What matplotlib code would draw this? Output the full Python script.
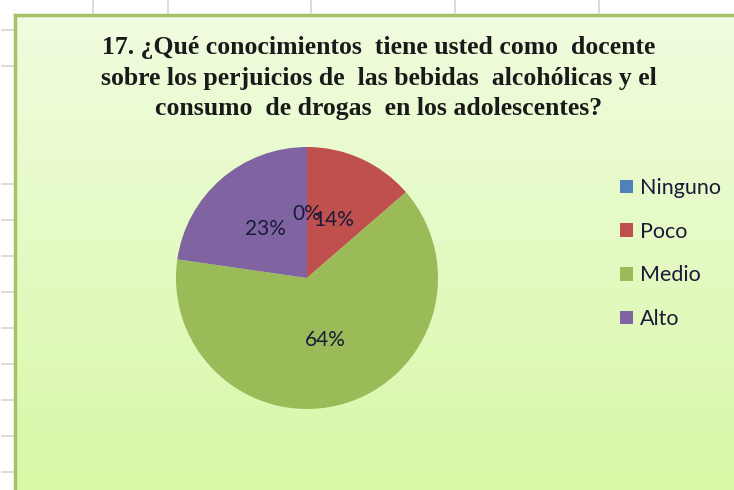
import numpy as np
import matplotlib.pyplot as plt
from matplotlib.lines import Line2D
from matplotlib.colors import LinearSegmentedColormap

# data
categories = ['Ninguno', 'Poco', 'Medio', 'Alto']
counts = [0, 3, 14, 5]
colors = ['#4f81bd', '#c0504d', '#9bbb59', '#8064a2']
title = ('17. ¿Qué conocimientos  tiene usted como  docente\n'
         'sobre los perjuicios de  las bebidas  alcohólicas y el\n'
         'consumo  de drogas  en los adolescentes?')

W, H = 734, 490
fig = plt.figure(figsize=(W / 100, H / 100), dpi=100)
fig.patch.set_facecolor('white')

# spreadsheet grid stubs outside the chart area
for x in [93, 168, 311, 455, 599]:
    fig.add_artist(Line2D([x / W, x / W], [1, 1 - 13 / H], color='#d4d4d4', lw=1.2))
for y in [30, 66, 184, 220, 256, 292, 328, 364, 400, 436, 472]:
    fig.add_artist(Line2D([2 / W, 13 / W], [1 - y / H, 1 - y / H], color='#d4d4d4', lw=1.2))

# chart area background gradient
x0, y0 = 15 / W, 15 / H
bg = fig.add_axes([x0, 0, 1 - x0, 1 - y0])
cmap = LinearSegmentedColormap.from_list('g', ['#f0fcdf', '#d9f8a7'])
bg.imshow(np.linspace(0, 1, 256).reshape(-1, 1), aspect='auto', cmap=cmap,
          extent=[0, 1, 0, 1])
bg.set_axis_off()
fig.add_artist(Line2D([x0, 1], [1 - y0, 1 - y0], color='#a6c266', lw=2.5))
fig.add_artist(Line2D([x0, x0], [0, 1 - y0], color='#a6c266', lw=2.5))

# title
fig.text(379 / W, 1 - 36 / H, title, ha='center', va='top',
         fontsize=18.5, fontweight='bold', family='Liberation Serif',
         color='#1a1a1a', linespacing=1.43)

# pie
cx, cy, r = 307, 278, 131
ax = fig.add_axes([(cx - r) / W, (H - cy - r) / H, 2 * r / W, 2 * r / H])
wedges, texts, autotexts = ax.pie(counts, colors=colors, startangle=90,
                                  counterclock=False, autopct='%1.0f%%',
                                  pctdistance=0.49, radius=1,
                                  textprops=dict(fontsize=15, family='Lato',
                                                 color='#1a1a3a'))
ax.set_xlim(-1, 1)
ax.set_ylim(-1, 1)
ax.set_aspect('equal')

fig.legend(wedges, categories, loc='upper left',
           bbox_to_anchor=(620 / W, 1 - 178 / H), frameon=False,
           prop=dict(family='Lato', size=15.5), labelcolor='#1a1a3a',
           handlelength=0.6, handleheight=0.6, handletextpad=0.33,
           labelspacing=1.1, borderpad=0, borderaxespad=0)

fig.savefig('out.png', dpi=100)
